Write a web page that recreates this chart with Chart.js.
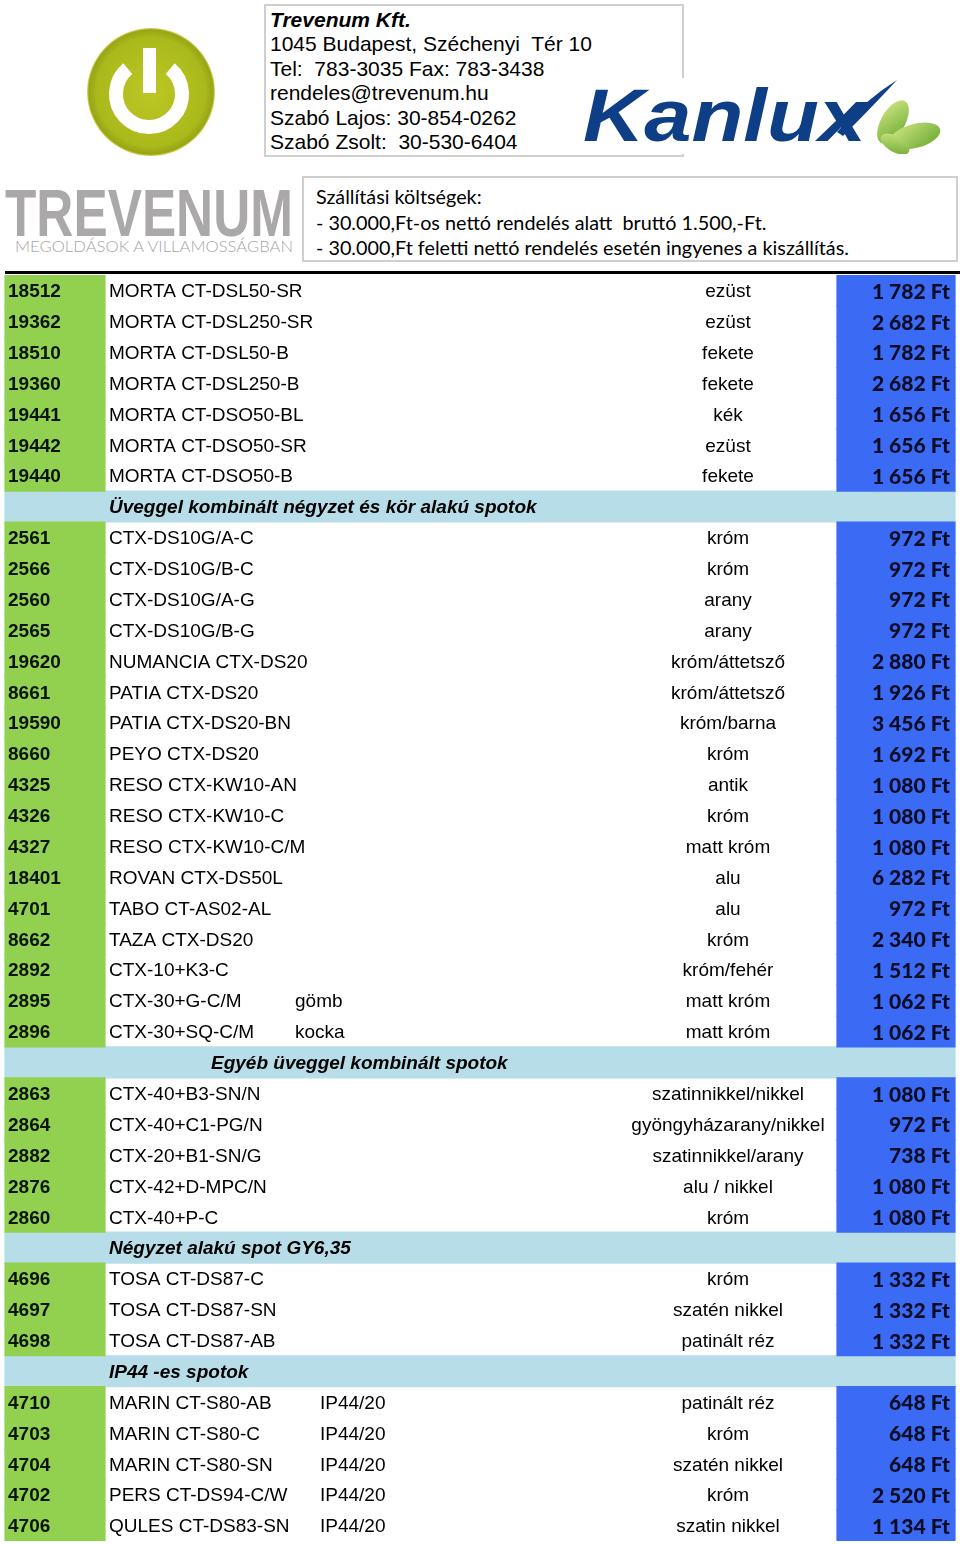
<!DOCTYPE html>
<html>
<head>
<meta charset="utf-8">
<script src="https://cdn.jsdelivr.net/npm/chart.js@4.4.0/dist/chart.umd.min.js"></script>
<style>
  body { margin: 0; width: 960px; height: 1544px; position: relative; background: #fff; overflow: hidden; }
  .abs { position: absolute; }
  #contact { left: 264px; top: 4px; width: 420px; height: 153px; border: 2px solid #cfcfcf; box-sizing: border-box;
    font: 21px "Liberation Sans", Arial, sans-serif; line-height: 24.4px; padding: 2px 0 0 4px; color: #000; }
  #contact b { font-style: italic; }
  #shipping { left: 302px; top: 176px; width: 656px; height: 86px; border: 2px solid #cfcfcf; box-sizing: border-box;
    font: 19.8px Lato, "Open Sans", sans-serif; line-height: 25.5px; padding: 6px 0 0 12px; color: #000; }
  #rule { left: 5px; top: 271px; width: 955px; height: 3px; background: #000; }
  #tableWrap { left: 0; top: 275px; width: 960px; height: 1266px; }
</style>
</head>
<body>

<!-- power logo -->
<svg class="abs" style="left:0;top:0" width="260" height="180">
  <defs>
    <radialGradient id="pg" cx="50%" cy="50%" r="50%">
      <stop offset="0%" stop-color="#bcc724"/>
      <stop offset="85%" stop-color="#aab91b"/>
      <stop offset="97%" stop-color="#97a515"/>
      <stop offset="100%" stop-color="#d9dc6a"/>
    </radialGradient>
  </defs>
  <circle cx="151" cy="92" r="64" fill="url(#pg)"/>
  <path d="M 170.2 68.7 A 33 33 0 1 1 127.8 68.7" fill="none" stroke="#fff" stroke-width="14"/>
  <rect x="143" y="48" width="13" height="45" fill="#fff"/>
</svg>

<div id="contact" class="abs">
  <b>Trevenum Kft.</b><br>
  1045 Budapest, Széchenyi&nbsp; Tér 10<br>
  Tel:&nbsp; 783-3035 Fax: 783-3438<br>
  rendeles@trevenum.hu<br>
  Szabó Lajos: 30-854-0262<br>
  Szabó Zsolt:&nbsp; 30-530-6404
</div>

<!-- Kanlux logo -->
<svg class="abs" style="left:575px;top:78px;background:#fff" width="385" height="76">
  <defs>
    <linearGradient id="lg" x1="0" y1="0" x2="1" y2="1">
      <stop offset="0%" stop-color="#cfe784"/>
      <stop offset="100%" stop-color="#6aa830"/>
    </linearGradient>
  </defs>
  <text x="8" y="63" font-family="Liberation Sans, Arial" font-weight="bold" font-style="italic"
        font-size="74" fill="#0e3f86" textLength="283" lengthAdjust="spacingAndGlyphs">Kanlux</text>
  <path d="M 262 54 Q 290 22 322 2 Q 298 28 268 58 Z" fill="#0e3f86"/>
  <ellipse cx="318" cy="44" rx="12" ry="24" transform="rotate(30 318 44)" fill="url(#lg)"/>
  <ellipse cx="340" cy="58" rx="26" ry="12" transform="rotate(-15 340 58)" fill="url(#lg)"/>
  <ellipse cx="320" cy="66" rx="16" ry="8" transform="rotate(30 320 66)" fill="url(#lg)"/>
</svg>

<!-- Trevenum logo -->
<svg class="abs" style="left:0;top:180px" width="300" height="80">
  <text x="5" y="56" font-family="Liberation Sans, Arial" font-weight="bold" font-size="66"
        fill="#aaa8a9" textLength="288" lengthAdjust="spacingAndGlyphs">TREVENUM</text>
  <text x="15" y="72" font-family="Lato, sans-serif" font-weight="300" font-size="15"
        fill="#a7a5a6" textLength="278" lengthAdjust="spacingAndGlyphs">MEGOLDÁSOK A VILLAMOSSÁGBAN</text>
</svg>

<div id="shipping" class="abs">
  Szállítási költségek:<br>
  - 30.000,Ft-os nettó rendelés alatt&nbsp; bruttó 1.500,-Ft.<br>
  - 30.000,Ft feletti nettó rendelés esetén ingyenes a kiszállítás.
</div>

<div id="rule" class="abs"></div>

<div id="tableWrap" class="abs"><canvas id="priceTable" width="960" height="1266"></canvas></div>

<script>
// sorok: cikkszám ('' = szekció fejléc), megnevezés, kiegészítő, szín, ár
var codes = ['18512','19362','18510','19360','19441','19442','19440','',
  '2561','2566','2560','2565','19620','8661','19590','8660','4325','4326','4327','18401','4701','8662','2892','2895','2896','',
  '2863','2864','2882','2876','2860','',
  '4696','4697','4698','',
  '4710','4703','4704','4702','4706'];

var names = ['MORTA CT-DSL50-SR','MORTA CT-DSL250-SR','MORTA CT-DSL50-B','MORTA CT-DSL250-B','MORTA CT-DSO50-BL','MORTA CT-DSO50-SR','MORTA CT-DSO50-B',
  'Üveggel kombinált négyzet és kör alakú spotok',
  'CTX-DS10G/A-C','CTX-DS10G/B-C','CTX-DS10G/A-G','CTX-DS10G/B-G','NUMANCIA CTX-DS20','PATIA CTX-DS20','PATIA CTX-DS20-BN','PEYO CTX-DS20',
  'RESO CTX-KW10-AN','RESO CTX-KW10-C','RESO CTX-KW10-C/M','ROVAN CTX-DS50L','TABO CT-AS02-AL','TAZA CTX-DS20','CTX-10+K3-C','CTX-30+G-C/M','CTX-30+SQ-C/M',
  'Egyéb üveggel kombinált spotok',
  'CTX-40+B3-SN/N','CTX-40+C1-PG/N','CTX-20+B1-SN/G','CTX-42+D-MPC/N','CTX-40+P-C',
  'Négyzet alakú spot GY6,35',
  'TOSA CT-DS87-C','TOSA CT-DS87-SN','TOSA CT-DS87-AB',
  'IP44 -es spotok',
  'MARIN CT-S80-AB','MARIN CT-S80-C','MARIN CT-S80-SN','PERS CT-DS94-C/W','QULES CT-DS83-SN'];

var extras = ['','','','','','','','',
  '','','','','','','','','','','','','','','','gömb','kocka','',
  '','','','','','',
  '','','','',
  'IP44/20','IP44/20','IP44/20','IP44/20','IP44/20'];

var colours = ['ezüst','ezüst','fekete','fekete','kék','ezüst','fekete','',
  'króm','króm','arany','arany','króm/áttetsző','króm/áttetsző','króm/barna','króm','antik','króm','matt króm','alu','alu','króm','króm/fehér','matt króm','matt króm','',
  'szatinnikkel/nikkel','gyöngyházarany/nikkel','szatinnikkel/arany','alu / nikkel','króm','',
  'króm','szatén nikkel','patinált réz','',
  'patinált réz','króm','szatén nikkel','króm','szatin nikkel'];

var prices = [1782,2682,1782,2682,1656,1656,1656,null,
  972,972,972,972,2880,1926,3456,1692,1080,1080,1080,6282,972,2340,1512,1062,1062,null,
  1080,972,738,1080,1080,null,
  1332,1332,1332,null,
  648,648,648,2520,1134];

// oszlopok helye a táblázat vízszintes tengelyén (0..960)
var col = {
  code: [5, 105], price: [837, 955], section: [5, 955],
  codeText: 8, nameText: 109, extraText: 295, ipText: 320, colourText: 728, priceText: 950
};
var sectionIndent = { 25: 211 };

function fmt(n) {
  return String(n).replace(/\B(?=(\d{3})+(?!\d))/g, ' ') + ' Ft';
}

var isSection = codes.map(function (c) { return c === ''; });

var textPlugin = {
  id: 'cellText',
  afterDatasetsDraw: function (chart) {
    var ctx = chart.ctx, x = chart.scales.x, y = chart.scales.y;
    ctx.save();
    ctx.textBaseline = 'middle';
    ctx.fillStyle = '#000';
    for (var i = 0; i < codes.length; i++) {
      var py = y.getPixelForValue(i) + 1.5;
      if (isSection[i]) {
        ctx.fillStyle = '#000';
        ctx.font = 'italic bold 19px "Liberation Sans", Arial, sans-serif';
        ctx.textAlign = 'left';
        ctx.fillText(names[i], x.getPixelForValue(sectionIndent[i] || col.nameText), py);
        continue;
      }
      ctx.textAlign = 'left';
      ctx.fillStyle = '#0a140a';
      ctx.font = 'bold 19px "Liberation Sans", Arial, sans-serif';
      ctx.fillText(codes[i], x.getPixelForValue(col.codeText), py);
      ctx.fillStyle = '#000';
      ctx.font = '19px "Liberation Sans", Arial, sans-serif';
      ctx.fillText(names[i], x.getPixelForValue(col.nameText), py);
      if (extras[i]) {
        var ex = extras[i].indexOf('IP') === 0 ? col.ipText : col.extraText;
        ctx.fillText(extras[i], x.getPixelForValue(ex), py);
      }
      ctx.textAlign = 'center';
      ctx.fillText(colours[i], x.getPixelForValue(col.colourText), py);
      ctx.textAlign = 'right';
      ctx.fillStyle = '#0b0d26';
      ctx.font = '900 21px Lato, "Open Sans", sans-serif';
      ctx.fillText(fmt(prices[i]), x.getPixelForValue(col.priceText), py);
    }
    ctx.restore();
  }
};

var ctx = document.getElementById('priceTable').getContext('2d');
var priceTable = new Chart(ctx, {
  type: 'bar',
  data: {
    labels: codes.map(function (c, i) { return c || names[i]; }),
    datasets: [{
      label: 'Cikkszám',
      data: codes.map(function (c) { return c ? col.code : null; }),
      backgroundColor: '#92d050'
    }, {
      label: 'Ár',
      data: prices.map(function (p) { return p != null ? col.price : null; }),
      backgroundColor: '#3b6bf4'
    }, {
      label: 'Szekció',
      data: isSection.map(function (s) { return s ? col.section : null; }),
      backgroundColor: '#b7dde8'
    }]
  },
  options: {
    indexAxis: 'y',
    responsive: false,
    animation: false,
    devicePixelRatio: 1,
    layout: { padding: 0 },
    datasets: { bar: { grouped: false, categoryPercentage: 1, barPercentage: 1, borderWidth: 0, inflateAmount: 0.6 } },
    scales: {
      x: { type: 'linear', min: 0, max: 960, display: false },
      y: { display: false }
    },
    plugins: { legend: { display: false }, tooltip: { enabled: false } }
  },
  plugins: [textPlugin]
});
</script>
</body>
</html>
